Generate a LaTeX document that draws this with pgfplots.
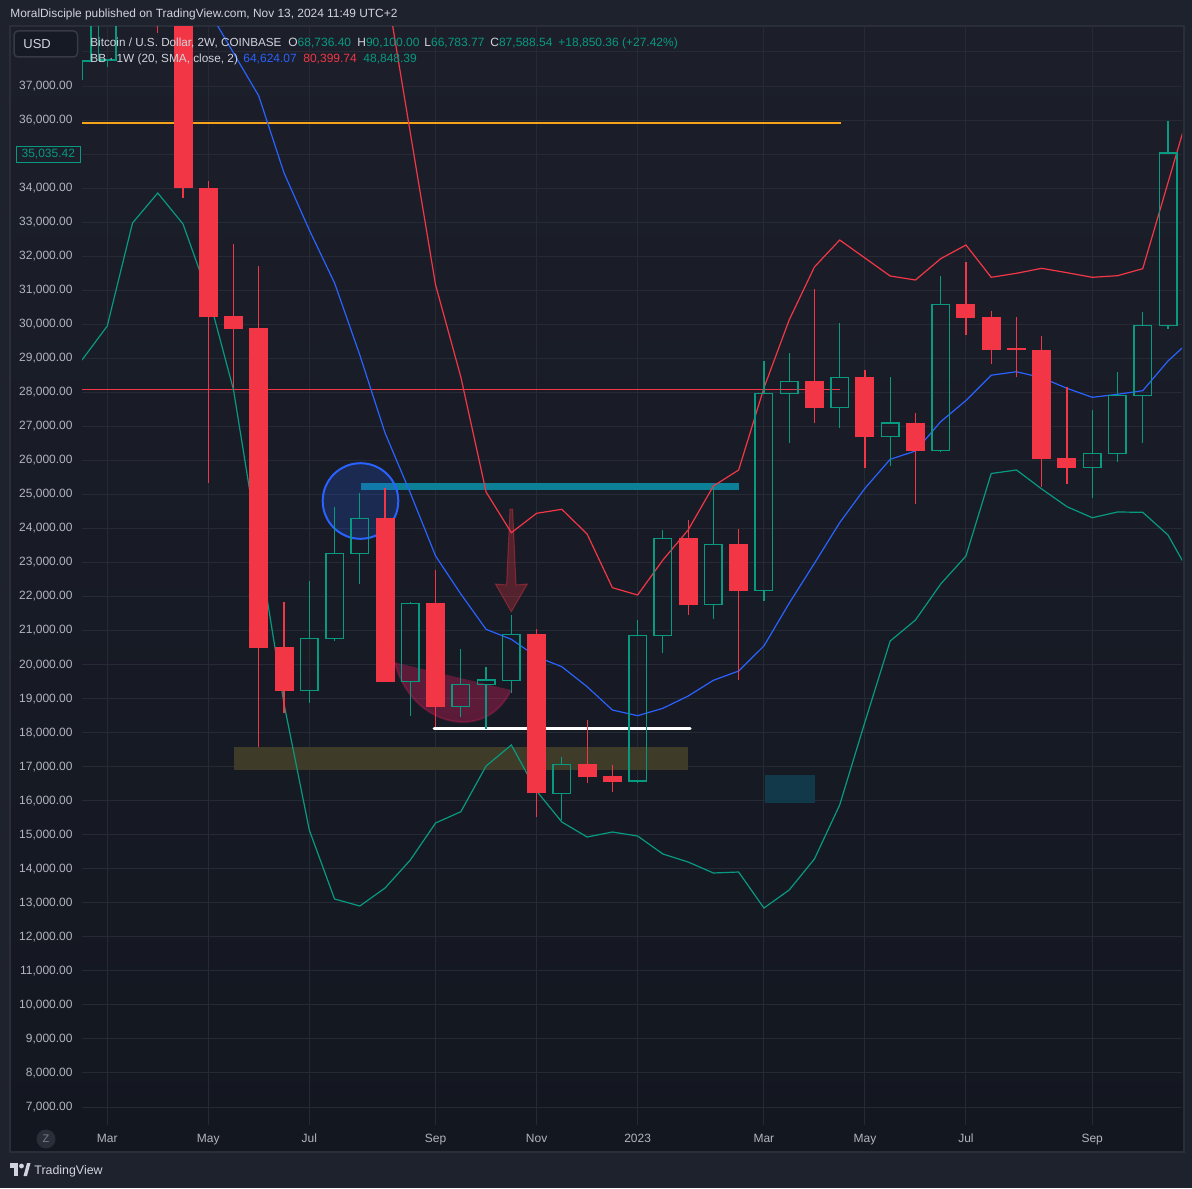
\documentclass[border=0pt]{standalone}
\usepackage{pgfplots}
\pgfplotsset{compat=1.18}
\usepackage{pgfplotstable}
\usepackage{fontspec}
\setmainfont{Liberation Sans}

\definecolor{cred}{HTML}{F23645}
\definecolor{cgreen}{HTML}{089981}
\definecolor{cblue}{HTML}{2962FF}
\definecolor{ctxt}{HTML}{B2B5BE}
\definecolor{chead}{HTML}{D1D4DC}
\definecolor{outerbg}{HTML}{1E222D}
\definecolor{gridc}{HTML}{262A35}
\definecolor{framec}{HTML}{2A2E39}
\definecolor{corange}{HTML}{F7A21B}
\definecolor{cteal}{HTML}{0B8096}
\definecolor{colive}{HTML}{3E3B28}
\definecolor{cdteal}{HTML}{12394A}
\definecolor{ccrimson}{HTML}{E91E63}
\definecolor{bgtop}{RGB}{28,31,42}
\definecolor{bgbot}{RGB}{19,23,32}

% candles: index (2-week bars), open, high, low, close
\pgfplotstableread{
i  open  high  low  close
-1 40500 41000 38557 39500
0  42000 42500 33709 34003
1  33994 34209 25335 30221
2  30242 32357 28126 29860
3  29889 31711 17577 20487
4  20525 21838 18585 19223
8  24306 25188 19497 19497
10 21809 22779 18165 18762
14 20898 21036 15512 16217
16 17078 18371 16512 16706
17 16726 17049 16265 16559
20 23719 24248 21456 21750
22 23543 23983 19546 22171
25 28332 31035 27109 27548
27 28450 28655 25785 26696
29 27091 27391 24727 26285
31 30595 31829 29693 30193
32 30212 30389 28840 29252
33 29290 30212 28458 29240
34 29243 29654 25226 26040
35 26060 28164 25297 25785
}\redcandles

\pgfplotstableread{
i  open  high  low  close
-4 37735 40500 37176 40200
-3 37764 40500 37558 40200
5  19244 22455 18880 20772
6  20772 24630 20702 23269
7  23269 25032 22376 24297
9  19497 21838 18497 21800
11 18762 20457 18468 19420
12 19420 19920 18098 19546
13 19526 21456 19156 20889
15 16217 17293 15433 17069
18 16579 21309 16530 20860
19 20860 23954 20349 23711
21 21771 25226 21348 23534
23 22183 28920 21877 27971
24 27971 29164 26519 28324
26 27558 30036 26960 28441
28 26696 28450 25834 27091
30 26295 31417 26237 30586
36 25795 27480 24885 26207
37 26207 28597 25961 27912
38 27912 30359 26519 29968
39 29968 35972 29869 35035.42
}\greencandles

\pgfplotstableread{
i v
-4 28949
-3 29948
-2 32975
-1 33856
0 32945
1 30859
2 28068
3 23454
4 18841
5 15139
6 13112
7 12906
8 13435
9 14258
10 15345
11 15677
12 17020
13 17637
14 16285
15 15374
16 14933
17 15080
18 14963
19 14434
20 14199
21 13876
22 13905
23 12847
24 13376
25 14287
26 15874
27 18312
28 20692
29 21309
30 22367
31 23190
32 25614
33 25717
34 25159
35 24639
36 24315
37 24483
38 24474
39 23807
40 22485
}\lowerband

\pgfplotstableread{
i v
0 40500
1 39239
2 37970
3 36706
4 34444
5 32769
6 31212
7 29096
8 26804
9 25041
10 23190
11 22073
12 21036
13 20742
14 20231
15 19937
16 19350
17 18665
18 18498
19 18715
20 19076
21 19538
22 19811
23 20546
24 21800
25 22975
26 24168
27 25179
28 26031
29 26275
30 27136
31 27759
32 28502
33 28605
34 28429
35 28117
36 27853
37 27941
38 28047
39 28920
40 29601
}\middleband

\pgfplotstableread{
i v
7 43000
8 40115
9 35619
10 31153
11 28450
12 25070
13 23875
14 24445
15 24562
16 23836
17 22259
18 22044
19 23072
20 23954
21 25247
22 25717
23 28126
24 30124
25 31682
26 32475
27 31946
28 31417
29 31300
30 31926
31 32328
32 31379
33 31497
34 31643
35 31514
36 31379
37 31426
38 31632
39 34159
40 36686
}\upperband

\pgfplotsset{tvaxis/.style={
  at={(41pt,-562.5pt)}, anchor=south west,
  width=550pt, height=549pt, scale only axis,
  xmin=-4, xmax=39.555, ymin=6471.1, ymax=38733.6,
}}

\begin{document}
\begin{tikzpicture}
% ---------- backgrounds (pixel coordinates) ----------
\begin{scope}[x=0.5pt,y=-0.5pt]
\fill[outerbg] (0,0) rectangle (1192,1188);
\shade[top color=bgtop, bottom color=bgbot] (10,26) rectangle (1184,1152);
\draw[framec, line width=1pt] (10,26) rectangle (1184,1152);
\end{scope}

% ---------- grid and tick labels ----------
\begin{axis}[tvaxis,
  axis line style={draw=none},
  tick style={draw=none}, major tick length=0pt,
  xmajorgrids, ymajorgrids,
  grid style={gridc, line width=0.5pt},
  xtick={-3,1,5,10,14,18,23,27,31,36},
  xticklabels={Mar,May,Jul,Sep,Nov,2023,Mar,May,Jul,Sep},
  ytick={7000,8000,9000,10000,11000,12000,13000,14000,15000,16000,17000,18000,19000,20000,21000,22000,23000,24000,25000,26000,27000,28000,29000,30000,31000,32000,33000,34000,35000,36000,37000,38000},
  yticklabels={{7,000.00},{8,000.00},{9,000.00},{10,000.00},{11,000.00},{12,000.00},{13,000.00},{14,000.00},{15,000.00},{16,000.00},{17,000.00},{18,000.00},{19,000.00},{20,000.00},{21,000.00},{22,000.00},{23,000.00},{24,000.00},{25,000.00},{26,000.00},{27,000.00},{28,000.00},{29,000.00},{30,000.00},{31,000.00},{32,000.00},{33,000.00},{34,000.00},{35,000.00},{36,000.00},{37,000.00},{}},
  yticklabel style={font=\fontsize{6}{7}\selectfont, text=ctxt, anchor=east, inner sep=0pt, xshift=-4.5pt},
  xticklabel style={font=\fontsize{6}{7}\selectfont, text=ctxt, anchor=base, inner sep=0pt, yshift=-8.5pt},
]
\addplot[draw=none, mark=none, forget plot] coordinates {(0,20000)};
\end{axis}

% ---------- drawings (pixel coordinates) ----------
\begin{scope}[x=0.5pt,y=-0.5pt]
\fill[colive] (234,747) rectangle (688,769.5);
\fill[cdteal] (765,775) rectangle (815,802.5);
\draw[corange, line width=0.75pt] (82,123) -- (840.5,123);
\draw[cred, line width=0.5pt] (82,389) -- (840,389);
\fill[ccrimson, opacity=0.33] (395,662.5) .. controls (410,725) and (485,745) .. (511,690) -- cycle;
\draw[ccrimson, opacity=0.25, line width=1pt] (395,662.5) .. controls (410,725) and (485,745) .. (511,690);
\fill[cteal] (361,483.3) rectangle (739,490.3);
\fill[cblue, opacity=0.2] (360.5,501) circle[radius=18.9pt];
\draw[cblue, line width=1pt] (360.5,501) circle[radius=18.9pt];
\draw[white, line width=1.5pt, line cap=round] (434,728) -- (690,728);
\filldraw[fill=cred, fill opacity=0.28, draw=cred, draw opacity=0.4, line width=0.5pt]
  (510,509) -- (512.6,509) -- (516,585) -- (527.3,584) -- (511.3,611.7) -- (495.5,584) -- (506.6,585) -- cycle;
\end{scope}

% ---------- series ----------
\begin{axis}[tvaxis, hide axis]
\addplot[cred, line width=0.6pt, mark=none] table[x=i, y=v] \upperband;
\addplot[cblue, line width=0.6pt, mark=none] table[x=i, y=v] \middleband;
\addplot[cgreen, line width=0.6pt, mark=none] table[x=i, y=v] \lowerband;
% red candles
\addplot[draw=none, mark=none, error bars/.cd, y dir=plus, y explicit, error mark=none,
  error bar style={draw=cred, line width=0.6pt}]
  table[x=i, y=low, y error plus expr=\thisrow{high}-\thisrow{low}] \redcandles;
\addplot[draw=none, mark=none, error bars/.cd, y dir=plus, y explicit, error mark=none,
  error bar style={draw=cred, line width=9.5pt}]
  table[x=i, y=close, y error plus expr=\thisrow{open}-\thisrow{close}] \redcandles;
% green candles (hollow)
\addplot[draw=none, mark=none, error bars/.cd, y dir=plus, y explicit, error mark=none,
  error bar style={draw=cgreen, line width=0.6pt}]
  table[x=i, y=close, y error plus expr=\thisrow{high}-\thisrow{close}] \greencandles;
\addplot[draw=none, mark=none, error bars/.cd, y dir=plus, y explicit, error mark=none,
  error bar style={draw=cgreen, line width=0.6pt}]
  table[x=i, y=low, y error plus expr=\thisrow{open}-\thisrow{low}] \greencandles;
\addplot[draw=none, mark=none, error bars/.cd, y dir=plus, y explicit, error mark=none,
  error bar style={draw=cgreen, line width=0.75pt}]
  table[x expr=\thisrow{i}-0.3465, y=open, y error plus expr=\thisrow{close}-\thisrow{open}] \greencandles;
\addplot[draw=none, mark=none, error bars/.cd, y dir=plus, y explicit, error mark=none,
  error bar style={draw=cgreen, line width=0.75pt}]
  table[x expr=\thisrow{i}+0.3465, y=open, y error plus expr=\thisrow{close}-\thisrow{open}] \greencandles;
\addplot[draw=none, mark=none, error bars/.cd, x dir=plus, x explicit, error mark=none,
  error bar style={draw=cgreen, line width=0.75pt, line cap=rect}]
  table[x expr=\thisrow{i}-0.3465, y=open, x error plus expr=0.693] \greencandles;
\addplot[draw=none, mark=none, error bars/.cd, x dir=plus, x explicit, error mark=none,
  error bar style={draw=cgreen, line width=0.75pt, line cap=rect}]
  table[x expr=\thisrow{i}-0.3465, y=close, x error plus expr=0.693] \greencandles;
\end{axis}

% ---------- overlay texts ----------
\begin{scope}[x=0.5pt,y=-0.5pt, every node/.style={inner sep=0pt}]
\node[anchor=base west, text=chead, font=\fontsize{5.95}{7}\selectfont] at (10,18) {MoralDisciple published on TradingView.com, Nov 13, 2024 11:49 UTC+2};
\node[anchor=base west, text=chead, font=\fontsize{5.85}{7}\selectfont] at (90,46.5) {Bitcoin / U.S. Dollar, 2W, COINBASE};
\node[anchor=base west, text=chead, font=\fontsize{6}{7}\selectfont] at (288,46.5) {O\textcolor{cgreen}{68,736.40}};
\node[anchor=base west, text=chead, font=\fontsize{6}{7}\selectfont] at (357,46.5) {H\textcolor{cgreen}{90,100.00}};
\node[anchor=base west, text=chead, font=\fontsize{6}{7}\selectfont] at (424,46.5) {L\textcolor{cgreen}{66,783.77}};
\node[anchor=base west, text=chead, font=\fontsize{6}{7}\selectfont] at (490,46.5) {C\textcolor{cgreen}{87,588.54}};
\node[anchor=base west, text=cgreen, font=\fontsize{6}{7}\selectfont] at (558,46.5) {+18,850.36 (+27.42\%)};
\node[anchor=base west, text=chead, font=\fontsize{5.9}{7}\selectfont] at (90,63) {BB · 1W (20, SMA, close, 2)};
\node[anchor=base west, text=cblue, font=\fontsize{6}{7}\selectfont] at (243,63) {64,624.07};
\node[anchor=base west, text=cred, font=\fontsize{6}{7}\selectfont] at (303,63) {80,399.74};
\node[anchor=base west, text=cgreen, font=\fontsize{6}{7}\selectfont] at (363,63) {48,848.39};
% USD button
\filldraw[fill={rgb,255:red,22;green,26;blue,37}, draw={rgb,255:red,54;green,58;blue,69}, line width=0.75pt, rounded corners=2pt] (14,31) rectangle (77.5,57);
\node[anchor=base west, text=chead, font=\fontsize{6.5}{8}\selectfont] at (23,48.5) {USD};
% last price label
\filldraw[fill=bgtop, draw=cgreen, line width=0.5pt] (16,146) rectangle (80.5,162.5);
\node[text=cgreen, font=\fontsize{6}{7}\selectfont] at (48.3,154.3) {35,035.42};
% Z button
\fill[framec] (46,1139) circle[radius=4.75pt];
\node[text={rgb,255:red,120;green,123;blue,134}, font=\fontsize{5.5}{6}\selectfont] at (46,1139) {Z};
% footer logo and text
\fill[chead] (10,1163) rectangle (18,1167.5);
\fill[chead] (13.5,1163) rectangle (18,1176);
\fill[chead] (21.5,1166) circle[radius=1.2pt];
\fill[chead] (23.5,1176) -- (27,1176) -- (30.5,1163) -- (27,1163) -- cycle;
\node[anchor=base west, text=chead, font=\fontsize{6.2}{8}\selectfont] at (34,1174.5) {TradingView};
\end{scope}
\pgfresetboundingbox
\path (0,0) rectangle (596pt,-594pt);
\end{tikzpicture}
\end{document}
